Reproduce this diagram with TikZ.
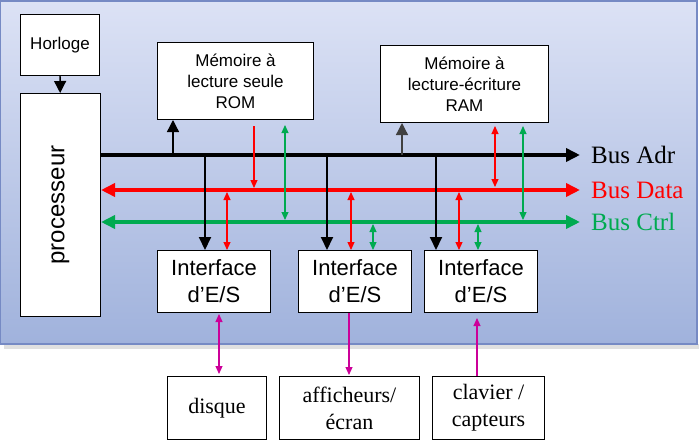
\documentclass[tikz,border=0pt]{standalone}
\usepackage{fontspec}
\setmainfont{Liberation Serif}
\setsansfont{Liberation Sans}
\usetikzlibrary{positioning,arrows.meta}
\definecolor{busred}{RGB}{255,0,0}
\definecolor{busgreen}{RGB}{0,170,80}
\definecolor{iolink}{RGB}{204,0,153}
\definecolor{paneltop}{RGB}{220,226,245}
\definecolor{panelbot}{RGB}{160,178,220}
\definecolor{panelline}{RGB}{118,138,196}

\begin{document}
\begin{tikzpicture}[x=1pt, y=-1pt,
    blk/.style = {draw, fill=white, line width=1pt, anchor=north west, inner sep=0pt, align=center},
    small/.style = {font=\sffamily\fontsize{17}{21}\selectfont},
    ios/.style = {font=\sffamily\fontsize{22}{27}\selectfont},
    per/.style = {font=\rmfamily\fontsize{22}{27}\selectfont},
    buslbl/.style = {font=\rmfamily\fontsize{25}{25}\selectfont, inner sep=0pt},
    bus/.style = {line width=4pt, -{Triangle[length=14pt,width=13pt]}},
    dbus/.style = {line width=4pt, {Triangle[length=14pt,width=13pt]}-{Triangle[length=14pt,width=13pt]}},
    tap/.style = {line width=2pt, -{Triangle[length=13pt,width=12pt]}},
    tapup/.style = {line width=1.3pt, -{Triangle[length=12pt,width=12pt]}},
    sig/.style = {line width=1.1pt, {Triangle[length=8pt,width=7pt]}-{Triangle[length=8pt,width=7pt]}},
    sigone/.style = {line width=1.1pt, -{Triangle[length=8pt,width=7pt]}}]

  \useasboundingbox (0,0) rectangle (699,442);
  \fill[black!12] (4,344) rectangle (699,349);
  \shade[top color=paneltop, bottom color=panelbot, draw=panelline, line width=1.5pt] (0,1) rectangle (697,344);

  \node[blk, small, minimum width=79, minimum height=61] (horloge) at (20,14) {Horloge};
  \node[blk, minimum width=80, minimum height=223] (proc) at (20,93)
      {\rotatebox{90}{\sffamily\fontsize{24}{24}\selectfont processeur}};
  \node[blk, small, minimum width=156, minimum height=77] (rom) at (157,42) {Mémoire à\\lecture seule\\ROM};
  \node[blk, small, minimum width=168, minimum height=77] (ram) at (380,45) {Mémoire à\\lecture-écriture\\RAM};

  \node[blk, ios, minimum width=113, minimum height=62] (if1) at (157,250) {Interface\\d’E/S};
  \node[blk, ios, minimum width=113, minimum height=62] (if2) at (298,250) {Interface\\d’E/S};
  \node[blk, ios, minimum width=113, minimum height=62] (if3) at (424,250) {Interface\\d’E/S};

  \node[blk, per, minimum width=99, minimum height=63] (disque) at (167,376) {disque};
  \node[blk, per, minimum width=140, minimum height=63] (aff) at (279,376) {afficheurs/\\écran};
  \node[blk, per, minimum width=112, minimum height=63] (clav) at (432,376) {clavier /\\capteurs};

  \draw[tapup] (horloge) -- (proc);

  % les trois bus
  \coordinate (adrEnd) at (580,155);
  \coordinate (dataEnd) at (580,190);
  \coordinate (ctrlEnd) at (580,222);
  \draw[bus] (proc.east |- adrEnd) -- (adrEnd);
  \draw[dbus, busred] (proc.east |- dataEnd) -- (dataEnd);
  \draw[dbus, busgreen] (proc.east |- ctrlEnd) -- (ctrlEnd);
  \node[buslbl, right=11pt of adrEnd] (adrlbl) {Bus Adr};
  \node[buslbl, busred, right=11pt of dataEnd] (datalbl) {Bus Data};
  \node[buslbl, busgreen, right=11pt of ctrlEnd] (ctrllbl) {Bus Ctrl};

  % adresses
  \path (173,155) coordinate (a-rom) (402,155) coordinate (a-ram);
  \draw[tapup] (a-rom) -- (a-rom |- rom.south);
  \draw[tapup, black!75] (a-ram) -- (a-ram |- ram.south);
  \foreach \n/\x in {if1/205, if2/327, if3/436}
    \draw[tap] (\x,155) coordinate (a-\n) -- (a-\n |- \n.north);

  % donnees
  \path (254,190) coordinate (d-rom) (495,190) coordinate (d-ram);
  \draw[sigone, busred, shorten <=6pt, shorten >=2pt] (d-rom |- rom.south) -- (d-rom);
  \draw[sig, busred, shorten <=3pt, shorten >=3pt] (d-ram |- ram.south) -- (d-ram);
  \foreach \n/\x in {if1/227, if2/351, if3/459}
    \draw[sig, busred, shorten <=2pt] (\x,190) coordinate (d-\n) -- (d-\n |- \n.north);

  % controle
  \path (285,222) coordinate (c-rom) (523,222) coordinate (c-ram);
  \draw[sig, busgreen, shorten <=5pt, shorten >=2pt] (c-rom |- rom.south) -- (c-rom);
  \draw[sig, busgreen, shorten <=3pt, shorten >=2pt] (c-ram |- ram.south) -- (c-ram);
  \foreach \n/\x in {if2/373, if3/478}
    \draw[sig, busgreen, shorten <=2pt] (\x,222) coordinate (c-\n) -- (c-\n |- \n.north);

  % peripheriques
  \path (219,0) coordinate (io1) (349,0) coordinate (io2) (477,0) coordinate (io3);
  \draw[sig, iolink, shorten <=1pt, shorten >=2pt] (io1 |- if1.south) -- (io1 |- disque.north);
  \draw[sigone, iolink, shorten >=1pt] (io2 |- if2.south) -- (io2 |- aff.north);
  \draw[sigone, iolink, shorten >=5pt] (io3 |- clav.north) -- (io3 |- if3.south);
\end{tikzpicture}
\end{document}
